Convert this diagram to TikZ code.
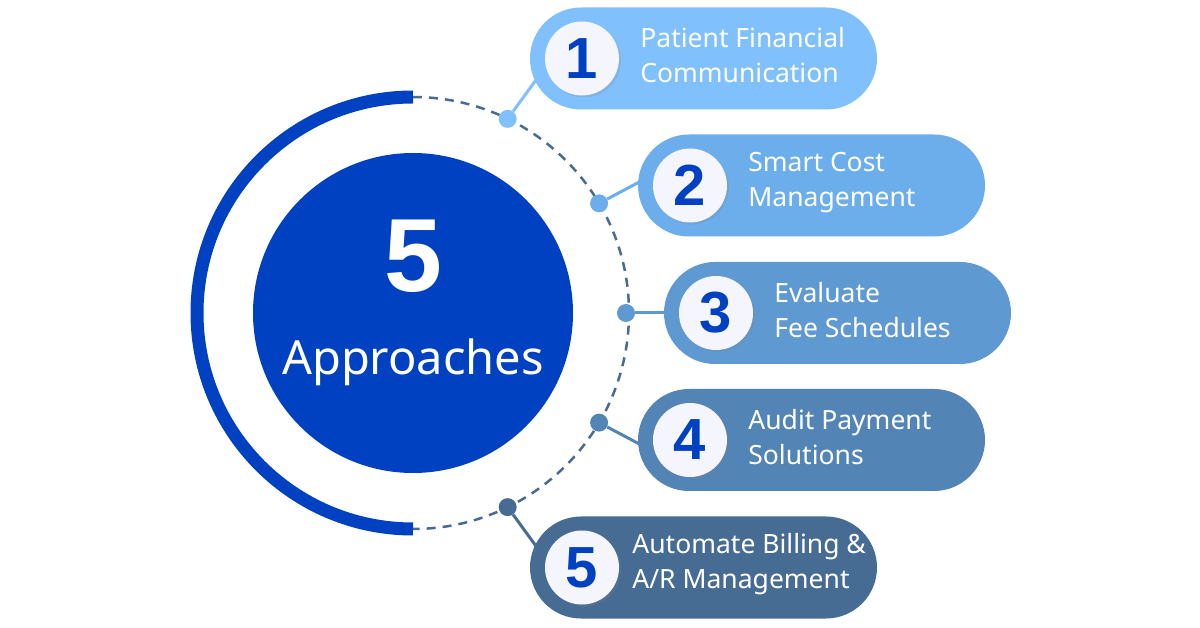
\documentclass[tikz,border=0pt]{standalone}
\usepackage{fontspec}
\setmainfont{Noto Sans}
\newfontfamily\numfont{Liberation Sans}
\definecolor{CoreBlue}{HTML}{0041C2}
\definecolor{DashGrey}{HTML}{4A6B90}
\definecolor{StepOne}{HTML}{80C0FD}
\definecolor{StepTwo}{HTML}{6CAEEB}
\definecolor{StepThree}{HTML}{5F99D1}
\definecolor{StepFour}{HTML}{5384B6}
\definecolor{StepFive}{HTML}{476C94}
\definecolor{BadgeFill}{HTML}{F5F5FD}
\usetikzlibrary{positioning, calc, shadows}

\begin{document}
\begin{tikzpicture}[x=1pt, y=1pt,
  pill/.style={rounded corners=51pt, fill=#1, minimum width=347pt,
               minimum height=102pt, inner sep=0pt},
  badge/.style={circle, fill=BadgeFill, minimum size=74pt, inner sep=0pt,
                font=\fontsize{58}{58}\numfont\bfseries, text=CoreBlue,
                drop shadow={shadow xshift=2pt, shadow yshift=-2pt, opacity=0.2}},
  lbl/.style={font=\fontsize{26.5}{35}\selectfont, text=white, align=left,
              inner sep=0pt, yshift=3pt},
  bead/.style={circle, fill=#1, minimum size=18pt, inner sep=0pt},
  link/.style={line width=3pt, #1},
]
  \useasboundingbox[fill=white] (0,0) rectangle (1200,627);

  \node[circle, fill=CoreBlue, minimum size=320pt] (core) at (413,314) {};
  \node[text=white, anchor=base, font=\fontsize{104}{104}\numfont\bfseries] (five) at (413,335) {5};
  \node[text=white, anchor=base, font=\fontsize{47}{47}\selectfont] (appr) at (413,252) {Approaches};

  \draw[CoreBlue, line width=13pt] ($(core)+(90:216)$) arc[start angle=90, end angle=270, radius=216];
  \draw[DashGrey, line width=2.5pt, dash pattern=on 9pt off 7pt]
    ($(core)+(90:216)$) arc[start angle=90, end angle=-90, radius=216];

  \node[bead=StepOne]   (d1) at ($(core)+(64:216)$) {};
  \node[bead=StepTwo]   (d2) at ($(core)+(30.5:216)$) {};
  \node[bead=StepThree] (d3) at ($(core)+(0:213)$) {};
  \node[bead=StepFour]  (d4) at ($(core)+(-30.5:216)$) {};
  \node[bead=StepFive]  (d5) at ($(core)+(-64:216)$) {};

  \coordinate (e1) at ($(d1)+(54:60)$);
  \coordinate (e2) at ($(d2)+(28:60)$);
  \coordinate (e3) at ($(d3)+(0:60)$);
  \coordinate (e4) at ($(d4)+(-28:60)$);
  \coordinate (e5) at ($(d5)+(-54:60)$);
  \draw[link=StepOne]   (d1) -- (e1);
  \draw[link=StepTwo]   (d2) -- (e2);
  \draw[link=StepThree] (d3) -- (e3);
  \draw[link=StepFour]  (d4) -- (e4);
  \draw[link=StepFive]  (d5) -- (e5);

  \node[pill=StepOne]   (p1) at (703.5,568.5) {};
  \node[pill=StepTwo]   (p2) at (811.5,441.5) {};
  \node[pill=StepThree] (p3) at (837.5,314) {};
  \node[pill=StepFour]  (p4) at (811.5,187) {};
  \node[pill=StepFive]  (p5) at (703.5,59.5) {};

  \node[badge, right=15pt of p1.west] (b1) {1};
  \node[badge, right=15pt of p2.west] (b2) {2};
  \node[badge, right=15pt of p3.west] (b3) {3};
  \node[badge, right=15pt of p4.west] (b4) {4};
  \node[badge, right=15pt of p5.west] (b5) {5};

  \node[lbl, right=21pt of b1] (t1) {Patient Financial\\Communication};
  \node[lbl, right=21pt of b2] (t2) {Smart Cost\\Management};
  \node[lbl, right=21pt of b3] (t3) {Evaluate\\Fee Schedules};
  \node[lbl, right=21pt of b4] (t4) {Audit Payment\\Solutions};
  \node[lbl, right=13pt of b5] (t5) {Automate Billing \&\\A/R Management};
\end{tikzpicture}
\end{document}
